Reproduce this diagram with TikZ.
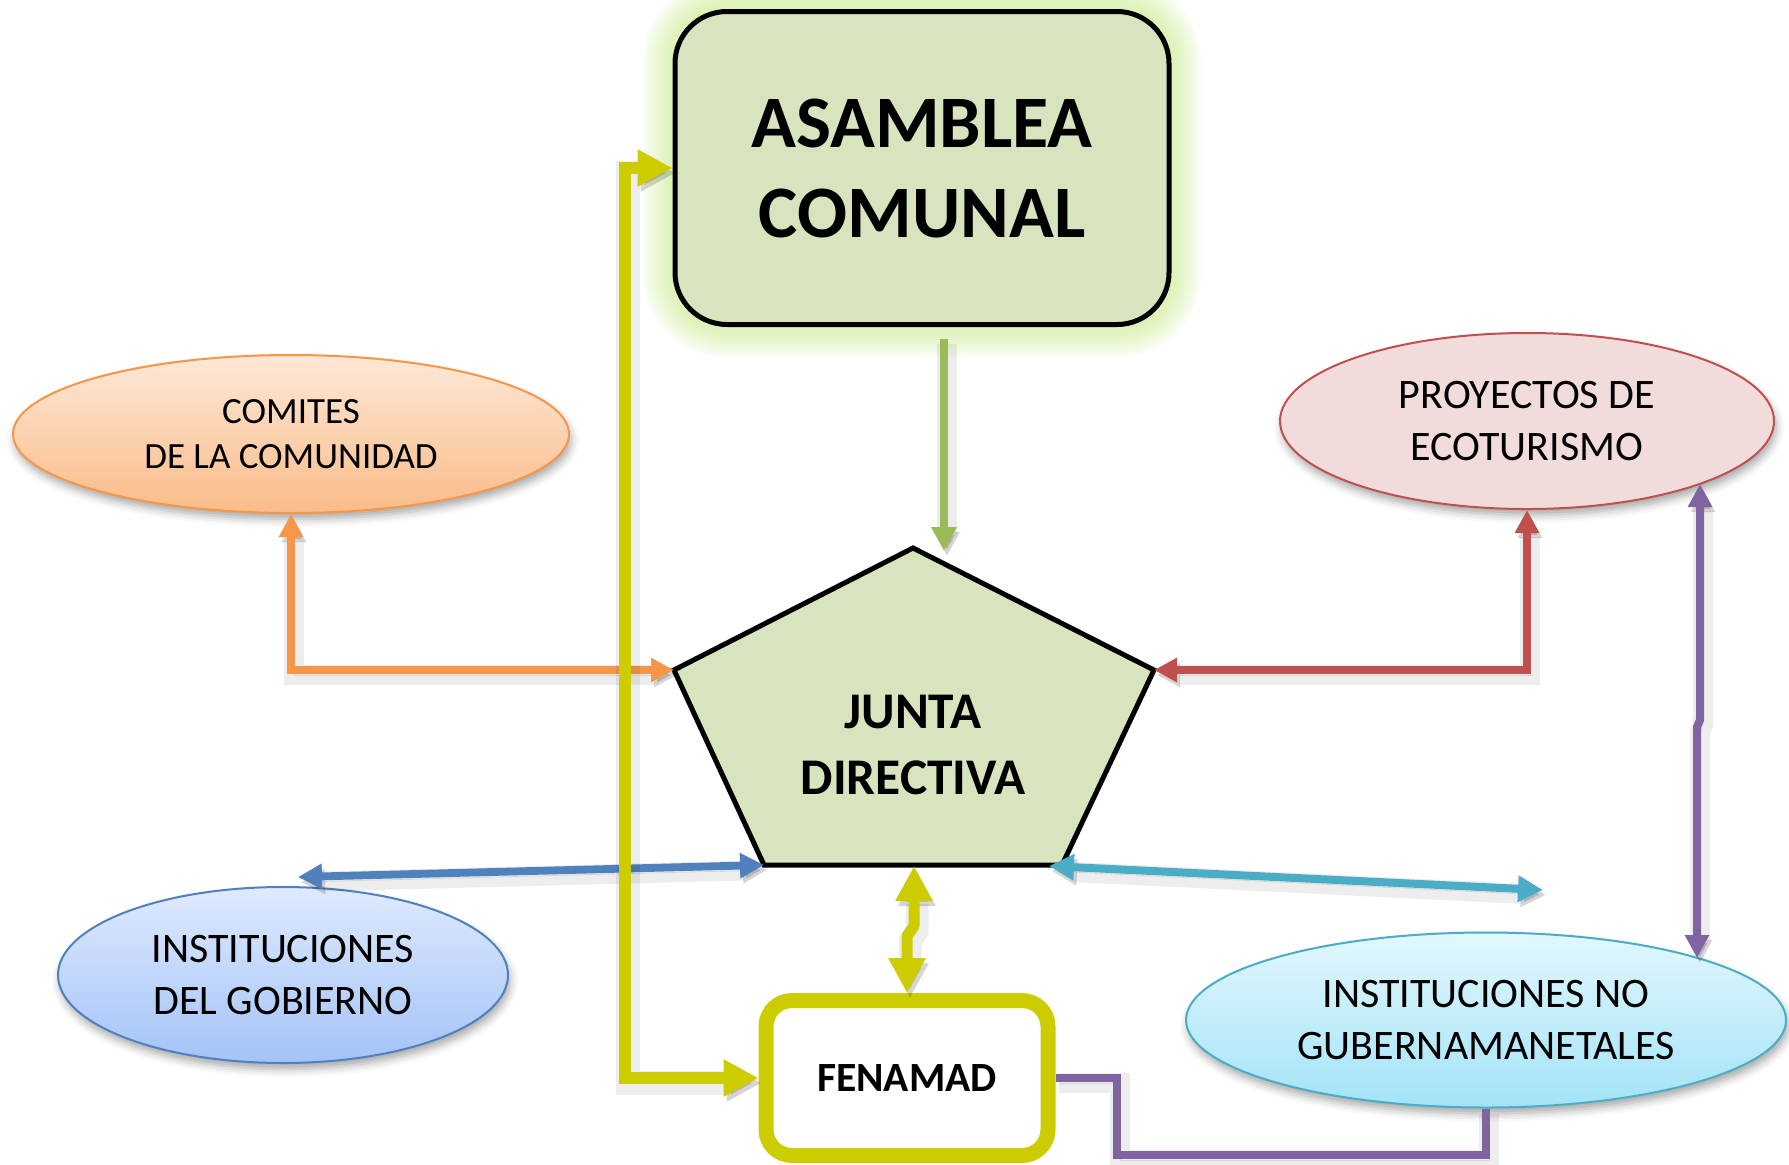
\documentclass[tikz,border=0pt]{standalone}
\usepackage{fontspec}
\setmainfont{Carlito}
\usetikzlibrary{arrows.meta,shapes.geometric,shadows.blur}
\definecolor{yel}{HTML}{CCCC00}
\definecolor{grnA}{HTML}{9BBB59}
\definecolor{boxfill}{HTML}{D7E4BD}
\definecolor{glowc}{HTML}{C5E880}
\definecolor{orA}{HTML}{F79646}
\definecolor{redA}{HTML}{C0504D}
\definecolor{bluA}{HTML}{4F81BD}
\definecolor{cyA}{HTML}{4BACC6}
\definecolor{puA}{HTML}{8064A2}
\definecolor{orTop}{HTML}{FDE8D8}
\definecolor{orBot}{HTML}{FABC88}
\definecolor{redFill}{HTML}{F2DCDB}
\definecolor{bluTop}{HTML}{DFEAFD}
\definecolor{bluBot}{HTML}{A3C3F8}
\definecolor{cyTop}{HTML}{E2F7FD}
\definecolor{cyBot}{HTML}{A3E3F7}
\begin{document}
\begin{tikzpicture}[x=0.5pt,y=-0.5pt,
  ell/.style={ellipse, draw, line width=1pt, inner sep=0pt, align=center,
    font=\fontsize{21}{26}\selectfont,
    blur shadow={shadow xshift=1pt, shadow yshift=-3pt, shadow blur radius=4pt, shadow opacity=35}},
  conn/.style={line join=miter, line cap=butt,
    preaction={draw=black, opacity=0.07, line width=\pgflinewidth+3pt, transform canvas={xshift=1.5pt, yshift=-2.5pt}},
    preaction={draw=black, opacity=0.10, transform canvas={xshift=1.5pt, yshift=-2.5pt}}},
  tipsz/.style={>={Triangle[length=#1,width=#1]}},
  bigbox/.style={draw, line width=2.5pt, fill=boxfill, rounded corners=26pt, align=center, inner sep=0pt},
  fenbox/.style={draw=yel, line width=7.5pt, fill=white, rounded corners=13pt, inner sep=0pt},
]
\useasboundingbox (0,0) rectangle (1789,1164);

% glow
\foreach \i in {1,...,10}{
  \pgfmathsetmacro\rr{26+1.5*\i}
  \fill[glowc, opacity=0.08, rounded corners=\rr pt] ({673-3*\i},{9-3*\i}) rectangle ({1171+3*\i},{327+3*\i});
}
\node[bigbox, minimum width=247pt, minimum height=156.5pt,
  font=\bfseries\fontsize{37}{45}\selectfont] (asam) at (922,168) {ASAMBLEA\\COMUNAL};

% pentagon
\coordinate (pt) at (913,548);
\coordinate (pr) at (1154,670);
\coordinate (pbr) at (1062,865);
\coordinate (pbl) at (764,865);
\coordinate (pl) at (674,670);
\filldraw[fill=boxfill, draw=black, line width=2.5pt, line join=miter] (pt) -- (pr) -- (pbr) -- (pbl) -- (pl) -- cycle;
\node[font=\bfseries\fontsize{25.7}{33}\selectfont, align=center] (jun) at (913,745) {JUNTA\\DIRECTIVA};

% ellipses
\node[ell, draw=orA, top color=orTop, bottom color=orBot, minimum width=278pt, minimum height=79pt,
  font=\fontsize{18.5}{22.5}\selectfont] (com) at (291,434) {COMITES\\DE LA COMUNIDAD};
\node[ell, draw=redA, fill=redFill, minimum width=247pt, minimum height=88pt] (pro) at (1527,421) {PROYECTOS DE\\ECOTURISMO};
\node[ell, draw=bluA, top color=bluTop, bottom color=bluBot, minimum width=225pt, minimum height=88pt] (gob) at (283,975) {INSTITUCIONES\\DEL GOBIERNO};
\node[ell, draw=cyA, top color=cyTop, bottom color=cyBot, minimum width=300pt, minimum height=87.5pt] (ngo) at (1486,1020) {INSTITUCIONES NO\\GUBERNAMANETALES};

% FENAMAD
\node[fenbox, minimum width=141pt, minimum height=77.5pt, font=\bfseries\fontsize{20.8}{25}\selectfont] (fen) at (907,1078) {FENAMAD};

% connectors
\coordinate (g1) at (944,339);
\coordinate (g2) at (944,551);
\draw[conn, grnA, line width=4pt, tipsz=12pt, ->] (g1) -- (g2);

\draw[conn, orA, line width=3.9pt, tipsz=11.5pt, <->] (com.south) |- (pl);
\draw[conn, redA, line width=3.9pt, tipsz=11.5pt, <->] (pro.south) |- (pr);

\coordinate (bl) at (298,877);
\draw[conn, bluA, line width=3.9pt, tipsz=12pt, <->] (bl) -- (pbl);

\coordinate (cl) at (1049,866);
\coordinate (cr) at (1543,890);
\draw[conn, cyA, line width=4pt, tipsz=12.5pt, <->] (cl) -- (cr);

\coordinate (pu0) at (1700,484);
\coordinate (pu1) at (1700,720);
\coordinate (pu2) at (1697,727);
\coordinate (pu3) at (1697,958);
\draw[conn, puA, line width=4pt, tipsz=11.5pt, <->] (pu0) -- (pu1) -- (pu2) -- (pu3);

\coordinate (pb) at (1117,1155);
\draw[conn, puA, line width=4pt] (fen.east) -| (pb) -| (ngo.south);

\coordinate (yx) at (625,600);
\draw[conn, yel, line width=6pt, tipsz=17.5pt, <->] (fen.west) -| (yx) |- (asam.west);

\coordinate (yt) at (914,866);
\coordinate (ys1) at (914,926);
\coordinate (ys2) at (907,936);
\draw[conn, line join=round, yel, line width=5.5pt, tipsz=17.5pt, <->] (yt) -- (ys1) -- (ys2) -- (fen.north);
\end{tikzpicture}
\end{document}
